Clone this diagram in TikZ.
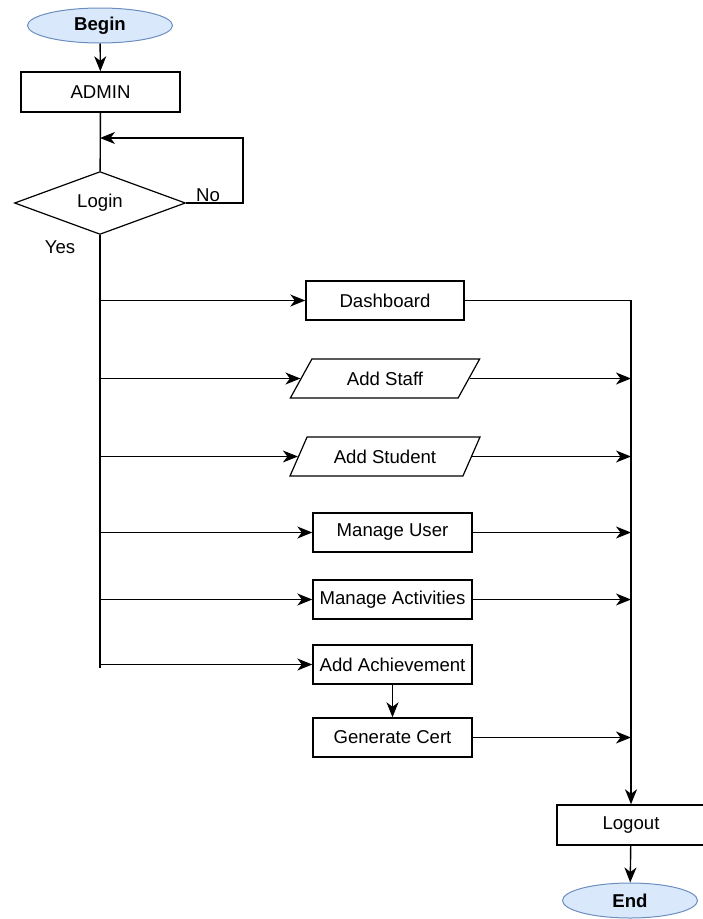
\documentclass[tikz,border=0pt]{standalone}
\usepackage{fontspec}
\setmainfont{Liberation Sans}
\usetikzlibrary{shapes.geometric,arrows.meta}
\definecolor{termfill}{HTML}{DAE8FC}
\definecolor{termdraw}{HTML}{6C8EBF}
\begin{document}
\begin{tikzpicture}[x=1pt,y=-1pt,
  font=\fontsize{18.6}{21}\selectfont,
  every node/.style={inner sep=0pt},
  terminal/.style={ellipse,draw=termdraw,fill=termfill,line width=1pt,
    minimum width=145pt,minimum height=35pt,font=\fontsize{18.6}{21}\selectfont\bfseries},
  procbox/.style={rectangle,draw,line width=1.4pt,minimum width=158pt,minimum height=39pt},
  iobox/.style={trapezium,draw,line width=1.2pt,trapezium left angle=50.6,
    trapezium right angle=129.4,trapezium stretches=true,
    minimum width=190pt,minimum height=39pt},
  decision/.style={diamond,draw,line width=1.2pt,minimum width=171pt,minimum height=52pt},
  flow/.style={line width=1.4pt,-{Stealth[length=15pt,width=12pt,inset=4.5pt]}},
  link/.style={line width=1.4pt}]
\useasboundingbox (0,0) rectangle (703,919);

% start, actor and login check
\node[terminal] (begin) at (100,25.5) {Begin};
\node[procbox,minimum width=159pt,minimum height=40pt] (admin) at (100.5,92) {ADMIN};
\node[decision] (login) at (100,203) {Login};
\coordinate (loopin) at (100,138);
\coordinate (loopr) at (243,138);
\node (no) at (208,195.5) {No};
\node (yes) at (60,247) {Yes};

% admin functions
\node[procbox] (dash) at (385,300.5) {Dashboard};
\node[iobox] (staff) at (385,378.5) {Add Staff};
\node[iobox] (student) at (385,456.5) {Add Student};
\node[procbox,minimum width=159pt] (muser) at (392.5,532.5) {Manage User};
\node[procbox,minimum width=159pt] (mact) at (392.5,599.5) {Manage Activities};
\node[procbox,minimum width=159pt] (ach) at (392.5,664.5) {Add Achievement};
\node[procbox,minimum width=159pt] (cert) at (392.5,737.5) {Generate Cert};

% exit
\node[procbox,minimum width=148pt,minimum height=40pt] (logout) at (631,825) {Logout};
\node[terminal,minimum width=135pt] (end) at (630,900.5) {End};

\coordinate (spineend) at (100,668);

% connectors
\draw[flow] (begin) -- (admin);
\draw[link] (admin) -- (login);
\draw[flow] (login.east) -| (loopr) -- (loopin);
\draw[link] (login.south) -- (spineend);

\draw[flow] (login.south |- dash.west) -- (dash.west);
\draw[flow] (login.south |- staff.left side) -- (staff.left side);
\draw[flow] (login.south |- student.left side) -- (student.left side);
\draw[flow] (login.south |- muser.west) -- (muser.west);
\draw[flow] (login.south |- mact.west) -- (mact.west);
\draw[flow] (login.south |- ach.west) -- (ach.west);
\draw[flow] (ach) -- (cert);

\draw[flow] (dash.east) -| (logout.north);
\draw[flow] (staff.right side) -- (staff.right side -| logout.north);
\draw[flow] (student.right side) -- (student.right side -| logout.north);
\draw[flow] (muser.east) -- (muser.east -| logout.north);
\draw[flow] (mact.east) -- (mact.east -| logout.north);
\draw[flow] (cert.east) -- (cert.east -| logout.north);
\draw[flow] (logout) -- (end);
\end{tikzpicture}
\end{document}
